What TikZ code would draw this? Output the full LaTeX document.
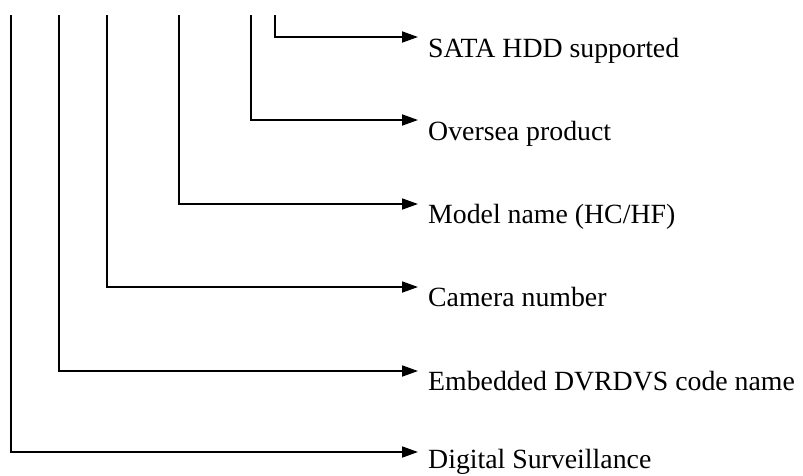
\documentclass[tikz,border=0pt]{standalone}
\usepackage{fontspec}
\setmainfont{Liberation Serif}
\usetikzlibrary{arrows.meta}

\begin{document}
\begin{tikzpicture}[x=1pt,y=-1pt,
  conn/.style={line width=1.8pt,-{Triangle[length=16pt,width=11pt]}},
  lbl/.style={inner sep=0pt,anchor=base west,font=\fontsize{27.8}{30}\selectfont}]
\useasboundingbox (0,0) rectangle (803,475);
% one branch per code field: x of the stem / y of the arrow / y of the text baseline / text
\foreach \i/\x/\y/\b/\t in %
{1/275/37/57/{SATA HDD supported},
 2/251/120/140/{Oversea product},
 3/179/204/223/{Model name (HC/HF)},
 4/107/287/306/{Camera number},
 5/59/371/390/{Embedded DVRDVS code name},
 6/11/452/468/{Digital Surveillance}} {
   \coordinate (top\i) at (\x,15);
   \coordinate (tip\i) at (418,\y);
   \node[lbl] (field\i) at (428,\b) {\t};
   \draw[conn] (top\i) |- (tip\i);
}
\end{tikzpicture}
\end{document}
